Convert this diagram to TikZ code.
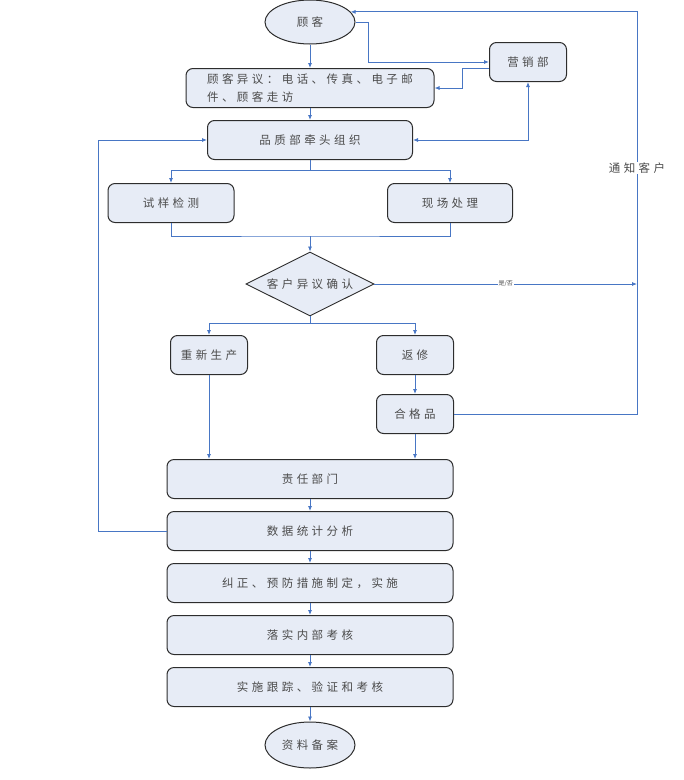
\documentclass[tikz,border=0pt]{standalone}
\usepackage{fontspec}
\setmainfont{Liberation Serif}
\newfontfamily\cjk[LetterSpace=30]{Noto Sans CJK SC}
\newfontfamily\cjktight{Noto Sans CJK SC}
\usetikzlibrary{arrows.meta,positioning,shapes.geometric}
\definecolor{flowblue}{RGB}{72,118,196}
\definecolor{boxfill}{RGB}{231,236,246}
\definecolor{boxline}{RGB}{45,45,45}
\definecolor{textgray}{RGB}{75,75,75}

\begin{document}
\begin{tikzpicture}[
    x=1pt,y=-1pt,
    >={Latex[length=5pt,width=4pt]},
    every node/.style={font=\cjk\fontsize{11.5}{18}\selectfont,text=textgray},
    box/.style={rectangle,rounded corners=7pt,draw=boxline,fill=boxfill,line width=1pt,
      minimum height=39pt,inner sep=0pt,align=center},
    term/.style={ellipse,draw=boxline,fill=boxfill,line width=1pt,
      minimum width=90pt,minimum height=44pt,inner sep=0pt},
    decide/.style={diamond,aspect=2,draw=boxline,fill=boxfill,line width=0.9pt,
      minimum width=128pt,minimum height=64pt,inner sep=0pt},
    arrow/.style={->,draw=flowblue,line width=0.8pt},
    link/.style={draw=flowblue,line width=0.8pt}
  ]
    \useasboundingbox (0,0) rectangle (684,780);

    \node[term] (cust) at (310,22) {顾客};
    \node[box,minimum width=248pt,align=left] (claim) at (310,88) {顾客异议：电话、传真、电子邮\\件、顾客走访};
    \node[box,minimum width=77pt] (sales) at (528,62) {营销部};
    \node[box,minimum width=205pt] (qa) at (310,140) {品质部牵头组织};
    \node[box,minimum width=126pt] (sample) at (171,203) {试样检测};
    \node[box,minimum width=125pt] (site) at (450,203) {现场处理};
    \node[decide] (check) at (310,284) {客户异议确认};
    \node[box,minimum width=77pt] (redo) at (209,355) {重新生产};
    \node[box,minimum width=77pt] (repair) at (415,355) {返修};
    \node[box,minimum width=77pt] (ok) at (415,414) {合格品};
    \node[box,minimum width=286pt] (duty) at (310,479) {责任部门};
    \node[box,minimum width=286pt] (stats) at (310,531) {数据统计分析};
    \node[box,minimum width=286pt] (fix) at (310,583) {纠正、预防措施制定，实施};
    \node[box,minimum width=286pt] (audit) at (310,635) {落实内部考核};
    \node[box,minimum width=286pt] (track) at (310,687) {实施跟踪、验证和考核};
    \node[term,minimum height=46pt] (archive) at (310,745) {资料备案};

    \coordinate (split1) at (310,170);
    \coordinate (merge) at (310,236);
    \coordinate (split2) at (310,323);
    \coordinate (rail) at (637,284);

    \draw[arrow] (cust) -- (claim);
    \draw[arrow] (cust.east) -- ++(13,0) |- (sales.west);
    \draw[arrow] ([yshift=-6pt]sales.west) -- ++(-27,0) |- (claim.east);
    \draw[<->,draw=flowblue,line width=0.8pt] (sales.south) |- (qa.east);
    \draw[arrow] (claim) -- (qa);

    \draw[link] (qa.south) -- (split1);
    \draw[arrow] (split1) -| (sample.north);
    \draw[arrow] (split1) -| (site.north);
    \draw[link] (sample.south) |- (merge) -| (site.south);
    \draw[arrow] (merge) -- (check.north);

    \draw[arrow] (check.east) -- (rail)
      node[midway,fill=white,inner sep=1pt,font=\cjktight\fontsize{6}{6}\selectfont] (yesno) {是/否};
    \draw[link] (check.south) -- (split2);
    \draw[arrow] (split2) -| (redo.north);
    \draw[arrow] (split2) -| (repair.north);

    \draw[arrow] (redo.south) -- (redo.south |- duty.north);
    \draw[arrow] (repair) -- (ok);
    \draw[arrow] (ok.south) -- (ok.south |- duty.north);
    \draw[arrow] (ok.east) -| (cust.14 -| rail) -- (cust.14);
    \node[fill=white,inner sep=1pt] (notify) at (637,168) {通知客户};

    \foreach \a/\b in {duty/stats,stats/fix,fix/audit,audit/track,track/archive}
      \draw[arrow] (\a) -- (\b);

    \draw[arrow] (stats.west) -- ++(-68,0) |- (qa.west);
  \end{tikzpicture}
\end{document}
